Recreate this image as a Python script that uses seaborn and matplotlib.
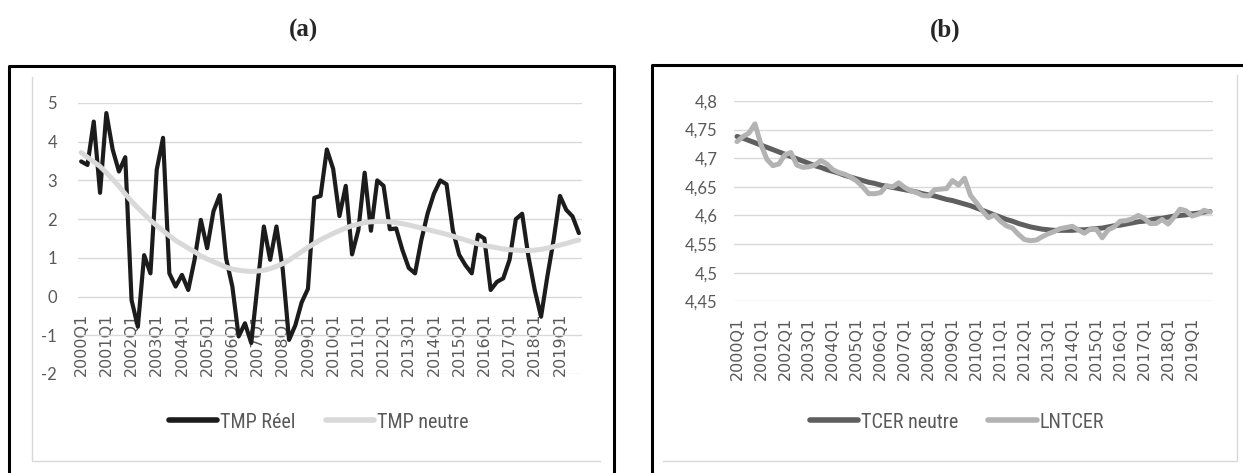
import numpy as np
import pandas as pd
import matplotlib.pyplot as plt
import seaborn as sns
from matplotlib.lines import Line2D
from matplotlib.ticker import FuncFormatter, FixedLocator

# quarters 2000Q1 .. 2019Q4
years = list(range(2000, 2020))
quarters = [f"{y}Q{q}" for y in years for q in range(1, 5)]

# (a) taux monetaire
tmp_reel = [3.49, 3.40, 4.52, 2.68, 4.74, 3.80, 3.23, 3.60, -0.09, -0.78,
            1.07, 0.60, 3.28, 4.10, 0.60, 0.26, 0.56, 0.17, 0.95, 1.98,
            1.25, 2.20, 2.62, 0.99, 0.26, -1.03, -0.69, -1.20, 0.30, 1.81,
            0.95, 1.81, 0.70, -1.12, -0.74, -0.15, 0.20, 2.55, 2.60, 3.80,
            3.30, 2.08, 2.86, 1.09, 1.72, 3.20, 1.70, 3.00, 2.86, 1.74,
            1.76, 1.20, 0.74, 0.60, 1.46, 2.15, 2.66, 3.00, 2.90, 1.71,
            1.08, 0.81, 0.60, 1.60, 1.50, 0.17, 0.38, 0.47, 0.95, 2.00,
            2.14, 1.03, 0.17, -0.52, 0.52, 1.47, 2.60, 2.24, 2.07, 1.64]
tmp_neutre = [3.72, 3.60, 3.48, 3.36, 3.20, 3.03, 2.85, 2.65, 2.46, 2.29,
              2.13, 1.97, 1.83, 1.70, 1.57, 1.45, 1.35, 1.25, 1.16, 1.05,
              0.97, 0.90, 0.83, 0.76, 0.71, 0.68, 0.66, 0.65, 0.66, 0.68,
              0.72, 0.78, 0.85, 0.94, 1.05, 1.16, 1.27, 1.37, 1.47, 1.55,
              1.63, 1.70, 1.77, 1.83, 1.87, 1.91, 1.93, 1.94, 1.94, 1.93,
              1.91, 1.88, 1.85, 1.81, 1.77, 1.73, 1.69, 1.65, 1.61, 1.56,
              1.51, 1.46, 1.41, 1.36, 1.32, 1.29, 1.26, 1.23, 1.21, 1.20,
              1.19, 1.19, 1.20, 1.22, 1.25, 1.29, 1.33, 1.37, 1.42, 1.46]

# (b) taux de change effectif reel
tcer_neutre = [4.738, 4.735, 4.731, 4.727, 4.723, 4.719, 4.715, 4.711, 4.707, 4.703,
               4.699, 4.695, 4.691, 4.687, 4.684, 4.680, 4.677, 4.674, 4.670, 4.667,
               4.664, 4.661, 4.658, 4.656, 4.653, 4.651, 4.649, 4.647, 4.645, 4.643,
               4.641, 4.638, 4.636, 4.634, 4.631, 4.628, 4.626, 4.623, 4.620, 4.617,
               4.613, 4.609, 4.605, 4.601, 4.597, 4.593, 4.590, 4.586, 4.583, 4.580,
               4.578, 4.576, 4.575, 4.574, 4.574, 4.574, 4.574, 4.575, 4.575, 4.576,
               4.577, 4.578, 4.580, 4.582, 4.583, 4.585, 4.587, 4.589, 4.590, 4.592,
               4.594, 4.595, 4.597, 4.599, 4.600, 4.601, 4.603, 4.604, 4.606, 4.607]
lntcer = [4.729, 4.738, 4.744, 4.760, 4.724, 4.698, 4.687, 4.690, 4.706, 4.710,
          4.688, 4.684, 4.685, 4.688, 4.696, 4.690, 4.680, 4.675, 4.672, 4.667,
          4.660, 4.650, 4.638, 4.638, 4.640, 4.652, 4.650, 4.657, 4.649, 4.643,
          4.640, 4.635, 4.634, 4.645, 4.646, 4.647, 4.661, 4.653, 4.665, 4.635,
          4.622, 4.608, 4.596, 4.601, 4.590, 4.582, 4.578, 4.567, 4.558, 4.556,
          4.557, 4.563, 4.568, 4.572, 4.577, 4.579, 4.581, 4.575, 4.569, 4.576,
          4.576, 4.561, 4.575, 4.580, 4.590, 4.591, 4.594, 4.600, 4.595, 4.586,
          4.586, 4.593, 4.585, 4.597, 4.611, 4.608, 4.599, 4.602, 4.609, 4.606]

ticks_a = [-2, -1, 0, 1, 2, 3, 4, 5]
ticks_b = [4.45, 4.5, 4.55, 4.6, 4.65, 4.7, 4.75, 4.8]

df = pd.DataFrame({"t": np.arange(len(quarters)), "q": quarters,
                   "TMP Réel": tmp_reel, "TMP neutre": tmp_neutre,
                   "TCER neutre": tcer_neutre, "LNTCER": lntcer})

sns.set_theme(style="white")
plt.rcParams["font.family"] = ["Lato", "DejaVu Sans"]

W, H = 1243, 473
fig = plt.figure(figsize=(W / 100, H / 100), dpi=100)
fig.patch.set_facecolor("white")

ax_a = fig.add_axes([78 / W, 1 - 374 / H, 504 / W, 271 / H])
ax_b = fig.add_axes([734 / W, 1 - 301.3 / H, 479 / W, 200.3 / H])

sns.lineplot(data=df, x="t", y="TMP Réel", ax=ax_a, color="#1c1c1c", lw=3.0,
             label="TMP Réel", zorder=3)
sns.lineplot(data=df, x="t", y="TMP neutre", ax=ax_a, color="#d9d9d9", lw=3.6,
             label="TMP neutre", zorder=4)
sns.lineplot(data=df, x="t", y="TCER neutre", ax=ax_b, color="#5f5f5f", lw=3.6,
             label="TCER neutre", zorder=3)
sns.lineplot(data=df, x="t", y="LNTCER", ax=ax_b, color="#b3b3b3", lw=3.6,
             label="LNTCER", zorder=4)

# axe des categories de (a) croise en 0
ax_a.spines["bottom"].set_position(("data", 0))

grey_txt = "#595959"
for ax, ticks, lim, xpad, ypad in [(ax_a, ticks_a, (-2, 5), 11.5, 15),
                                   (ax_b, ticks_b, (4.45, 4.8), 11, 12)]:
    ax.set_xlim(-0.5, len(quarters) - 0.5)
    ax.set_ylim(*lim)
    ax.yaxis.set_major_locator(FixedLocator(ticks))
    ax.xaxis.set_major_locator(FixedLocator(df["t"][::4]))
    ax.set_xticklabels(df["q"][::4], rotation=90, fontsize=11.5,
                       family="DejaVu Sans", color=grey_txt)
    ax.grid(axis="y", color="#d9d9d9", lw=1.0)
    ax.grid(axis="x", visible=False)
    for s in ax.spines.values():
        s.set_visible(False)
    ax.tick_params(axis="x", length=0, pad=xpad)
    ax.tick_params(axis="y", length=0, pad=ypad, labelsize=12, labelcolor=grey_txt)
    ax.set_xlabel("")
    ax.set_ylabel("")
    ax.set_facecolor("none")

ax_a.yaxis.set_major_formatter(FuncFormatter(lambda v, p: f"{int(round(v))}"))
ax_b.yaxis.set_major_formatter(FuncFormatter(lambda v, p: f"{round(v, 2):g}".replace(".", ",")))

leg_font = {"family": ["Liberation Sans Narrow", "Roboto Condensed", "Lato"], "size": 14.5}
for ax, cx in [(ax_a, 319), (ax_b, 957)]:
    h, l = ax.get_legend_handles_labels()
    ax.get_legend().remove()
    leg = fig.legend(h, l, loc="center", bbox_to_anchor=(cx / W, 1 - 422 / H), ncol=2,
                     frameon=False, handlelength=2.4, handletextpad=0.15,
                     columnspacing=1.5, prop=leg_font)
    for t in leg.get_texts():
        t.set_color(grey_txt)
    for ln in leg.get_lines():
        ln.set_linewidth(4)

# panel frames
def fline(xs, ys, color, lw):
    fig.add_artist(Line2D([x / W for x in xs], [1 - y / H for y in ys],
                          color=color, lw=lw, solid_capstyle="projecting"))

fline([9, 9, 614, 614], [480, 66, 66, 480], "black", 2.2)
fline([652, 652, 1250], [480, 65, 65], "black", 2.2)
fline([32, 32, 600], [77, 461, 461], "#d9d9d9", 1.0)
fline([663, 1237, 1237], [461, 461, 75], "#d9d9d9", 1.0)

fig.text(303 / W, 1 - 30 / H, "(a)", ha="center", va="center", fontsize=18,
         fontweight="bold", family=["Liberation Serif", "DejaVu Serif"])
fig.text(945 / W, 1 - 30 / H, "(b)", ha="center", va="center", fontsize=18,
         fontweight="bold", family=["Liberation Serif", "DejaVu Serif"])

fig.savefig("out.png", dpi=100, facecolor="white")
